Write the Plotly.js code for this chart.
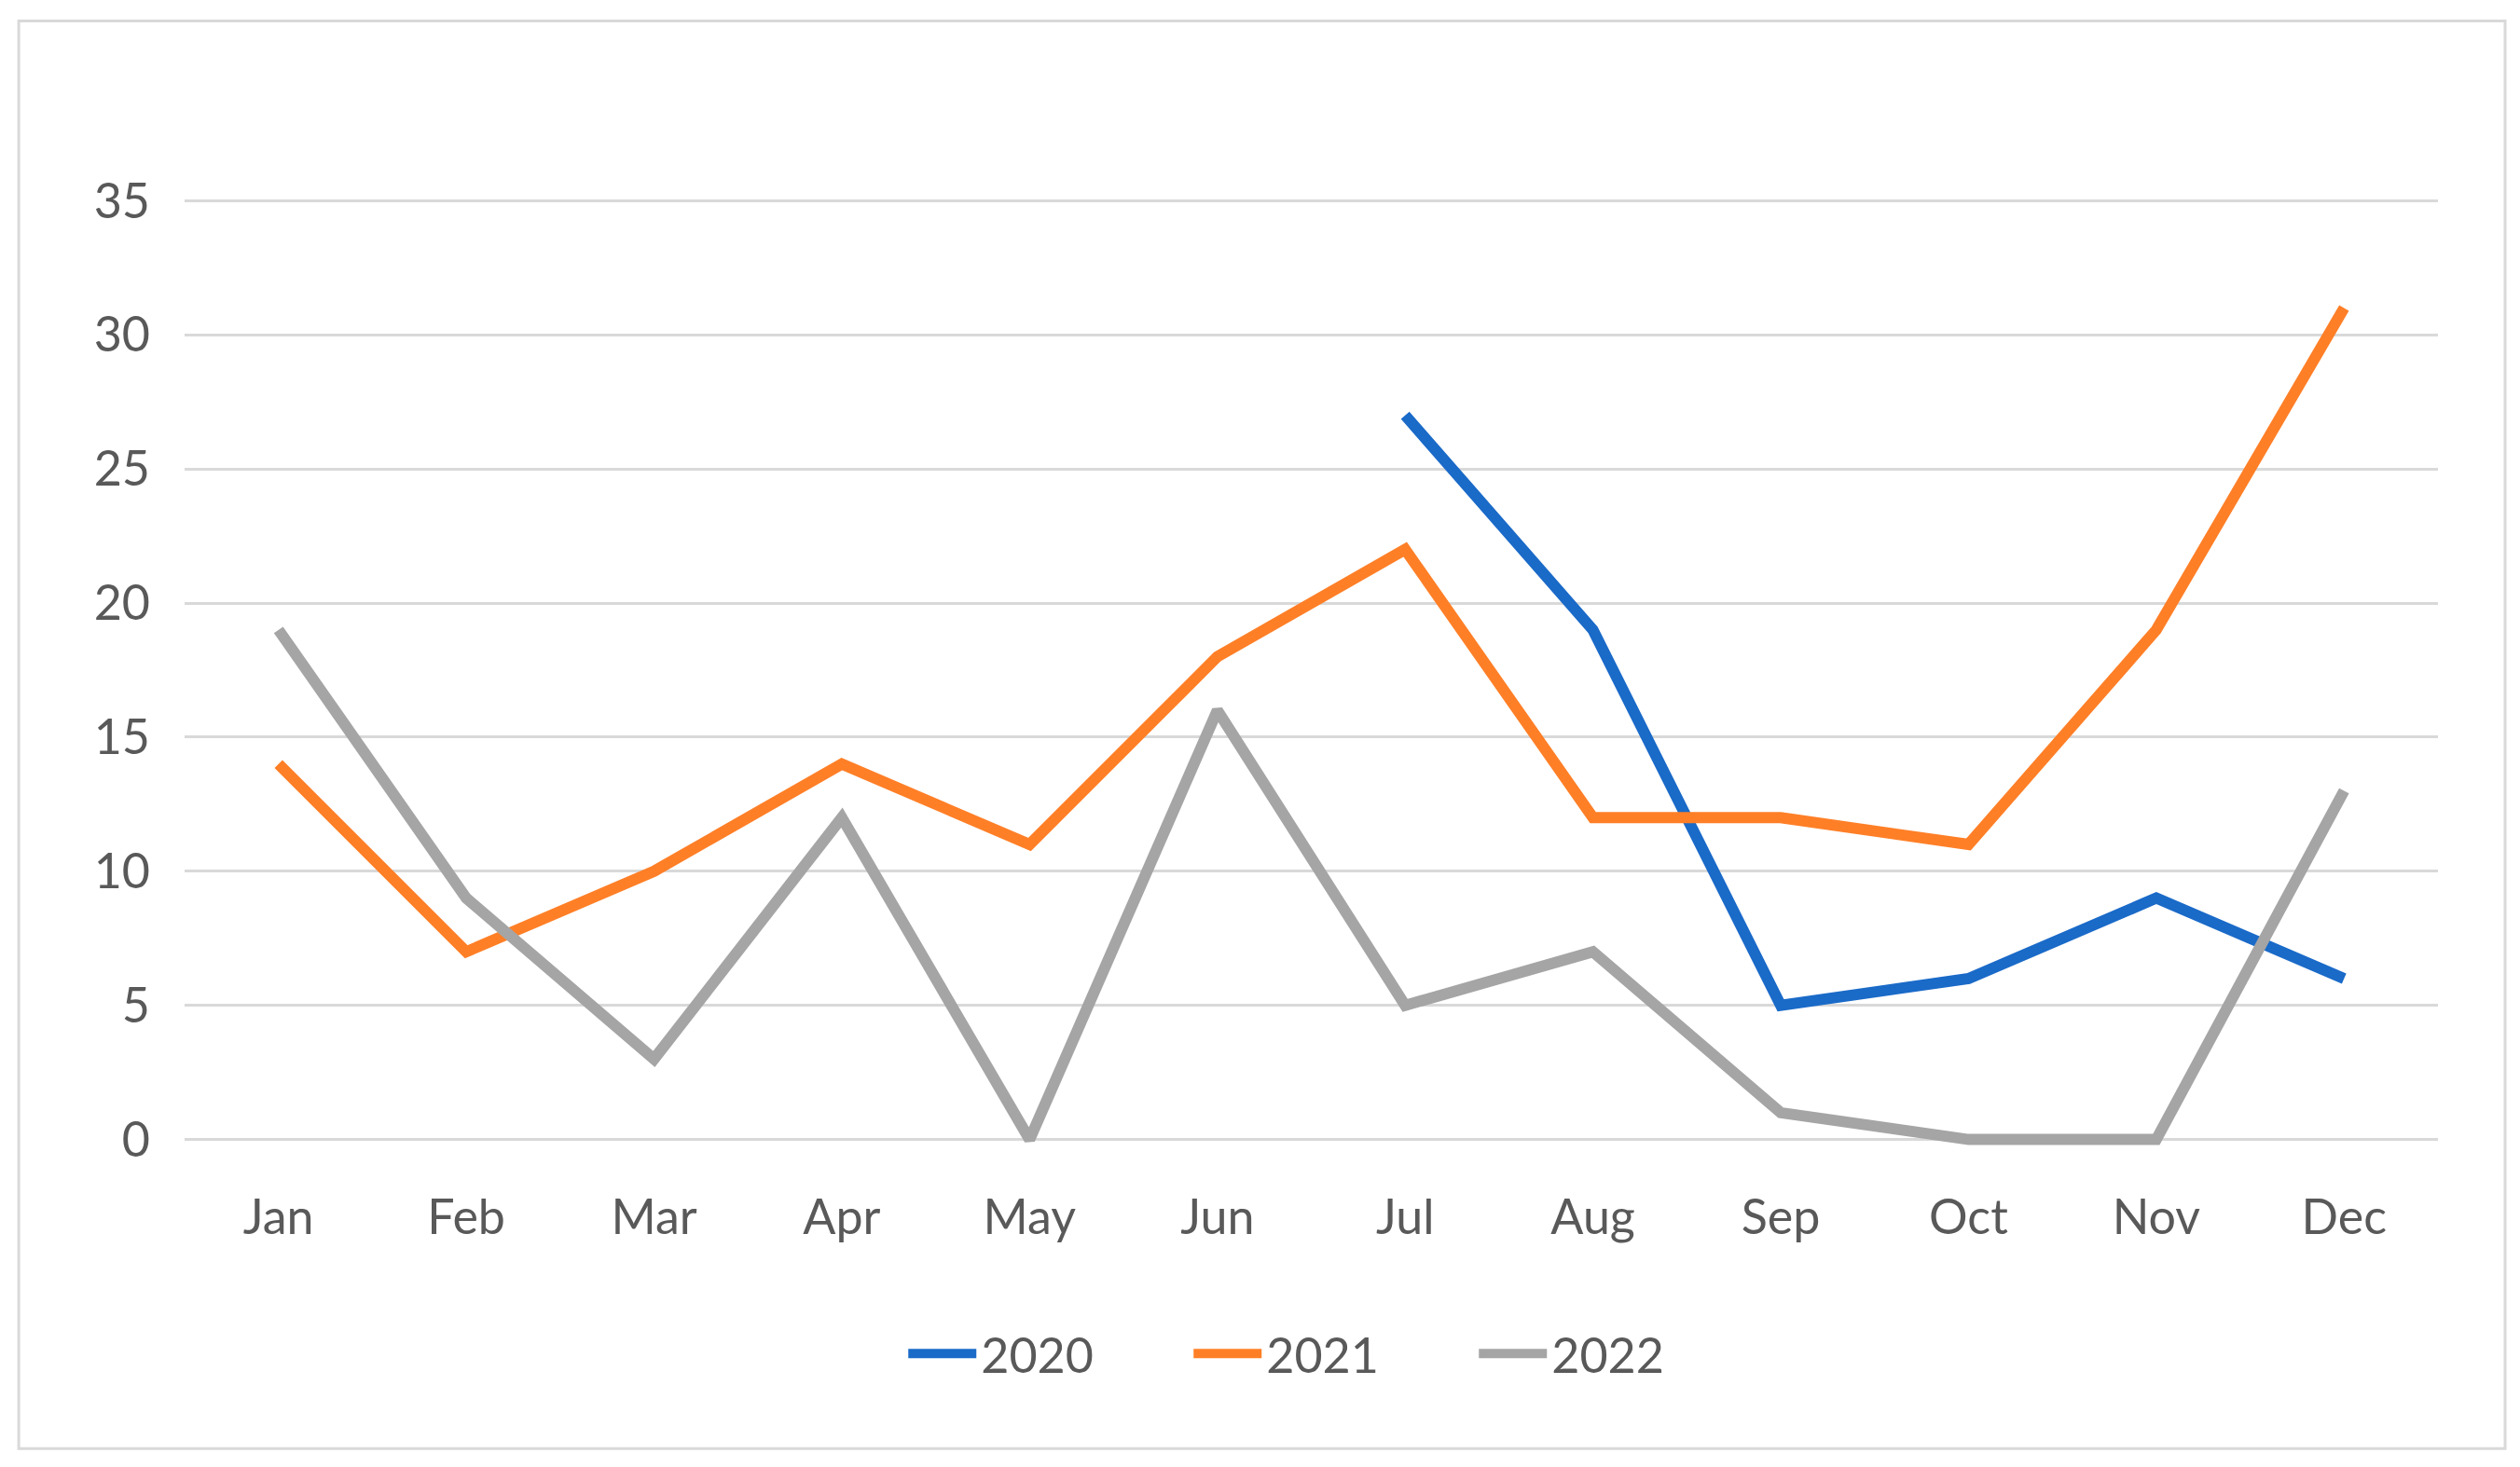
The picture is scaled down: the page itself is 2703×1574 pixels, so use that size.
<!DOCTYPE html>
<html>
<head>
<meta charset="utf-8">
<script src="https://cdn.plot.ly/plotly-3.0.1.min.js"></script>
<style>
html,body{margin:0;padding:0;background:#fff;}
#chart{width:2703px;height:1574px;}
</style>
</head>
<body>
<div id="chart"></div>
<script>
var months = ["Jan","Feb","Mar","Apr","May","Jun","Jul","Aug","Sep","Oct","Nov","Dec"];
var series2020 = [null,null,null,null,null,null,27,19,5,6,9,6];
var series2021 = [14,7,10,14,11,18,22,12,12,11,19,31];
var series2022 = [19,9,3,12,0,16,5,7,1,0,0,13];
var yTicks = [0,5,10,15,20,25,30,35];

var textColor = "#595959";
var fontFam = "Lato, 'Open Sans', sans-serif";

function mk(name, y, color){
  return {x: months, y: y, name: name, type: "scatter", mode: "lines",
    connectgaps: false,
    line: {color: color, width: 12, shape: "linear"}, hoverinfo: "skip"};
}

var data = [
  mk("2020", series2020, "#1a6ac8"),
  mk("2021", series2021, "#ff7f27"),
  mk("2022", series2022, "#a5a5a5")
];

var layout = {
  width: 2703, height: 1574,
  margin: {l: 198, r: 88, t: 201, b: 337},
  paper_bgcolor: "#fff", plot_bgcolor: "#fff",
  showlegend: true,
  font: {family: fontFam, color: textColor, size: 52},
  xaxis: {type: "category", range: [-0.5, 11.5], showgrid: false, zeroline: false,
    showline: false, ticks: "", ticklabelstandoff: 34,
    tickfont: {size: 52, color: textColor, family: fontFam}},
  yaxis: {range: [-0.5, 35.5], tickvals: yTicks, ticktext: yTicks.map(String),
    showgrid: true, gridcolor: "#d9d9d9", gridwidth: 3, zeroline: false, showline: false,
    ticks: "", ticklabelstandoff: 36,
    tickfont: {size: 52, color: textColor, family: fontFam}},
  legend: {orientation: "h", x: 0.509, xanchor: "center", y: -0.208, yanchor: "middle",
    font: {size: 52, color: textColor, family: fontFam}, itemwidth: 73,
    entrywidth: 218, entrywidthmode: "pixels",
    traceorder: "normal", bgcolor: "rgba(0,0,0,0)"},
  shapes: [{type: "rect", xref: "paper", yref: "paper",
    x0: -0.0736, x1: 1.0298, y0: -0.3063, y1: 1.1722,
    line: {color: "#d9d9d9", width: 3}, fillcolor: "rgba(0,0,0,0)", layer: "below"}]
};

Plotly.newPlot("chart", data, layout, {displayModeBar: false, staticPlot: true});
</script>
</body>
</html>
